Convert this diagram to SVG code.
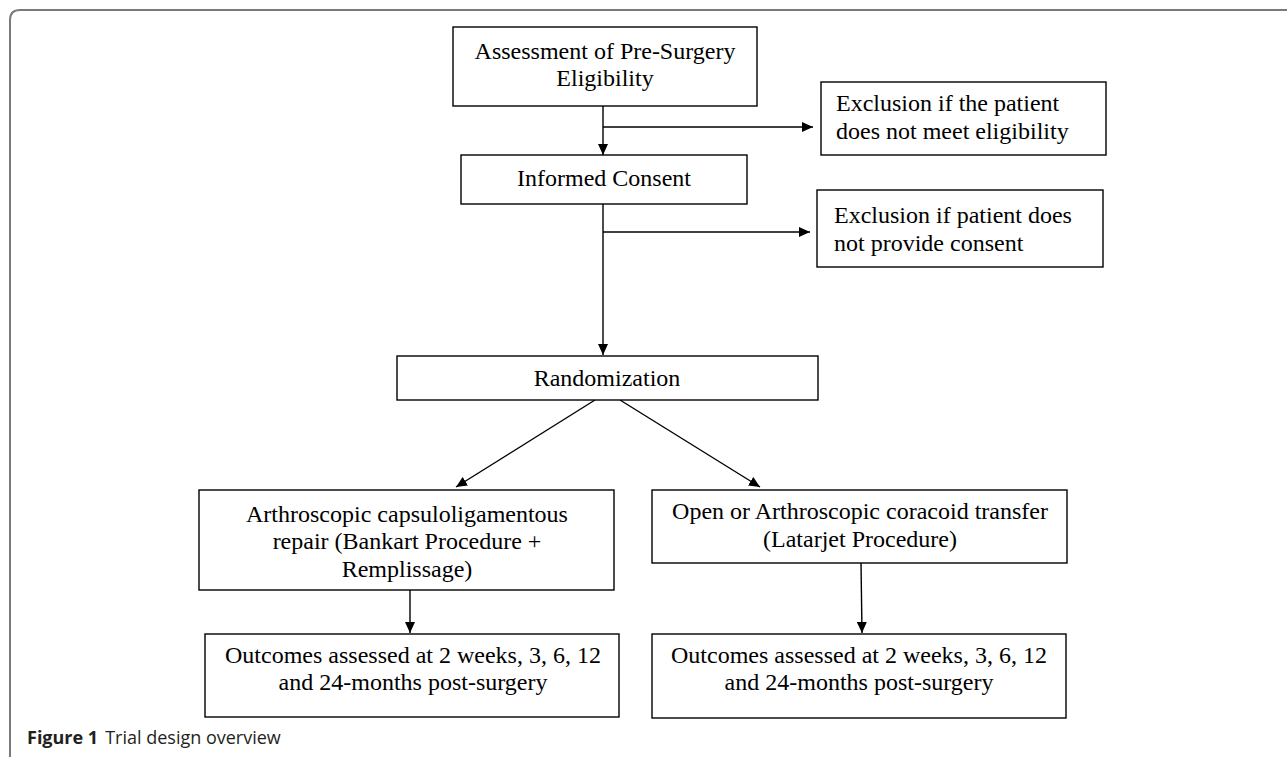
<svg xmlns="http://www.w3.org/2000/svg" width="1287" height="757" viewBox="0 0 1287 757">
<defs>
<style>
.box{fill:#fff;stroke:#000;stroke-width:1.4}
.t{font-family:"Liberation Serif","Times New Roman",serif;font-size:24px;fill:#000}
.c{text-anchor:middle}
.conn{stroke:#000;stroke-width:1.4;fill:none;marker-end:url(#ah)}
.cap{font-family:"Open Sans","Noto Sans",sans-serif;font-size:18px;fill:#231f20}
</style>
<marker id="ah" viewBox="0 0 11 10" refX="11" refY="5" markerWidth="11" markerHeight="10" markerUnits="userSpaceOnUse" orient="auto">
<path d="M0,0 L11,5 L0,10 z" fill="#000"/>
</marker>
</defs>
<rect width="1287" height="757" fill="#fff"/>
<path d="M10,757 L10,20 Q10,10 20,10 L1287,10" fill="none" stroke="#7a7a7a" stroke-width="2"/>

<g id="connectors">
<line class="conn" x1="603" y1="106" x2="603" y2="155"/>
<line class="conn" x1="603" y1="127" x2="813" y2="127"/>
<line class="conn" x1="603" y1="204" x2="603" y2="355"/>
<line class="conn" x1="603" y1="232" x2="810" y2="232"/>
<line class="conn" x1="595" y1="400" x2="456" y2="487"/>
<line class="conn" x1="620" y1="400" x2="760" y2="487"/>
<line class="conn" x1="410" y1="590" x2="410" y2="633"/>
<line class="conn" x1="861" y1="563" x2="862" y2="633"/>
</g>

<g id="assessment">
<rect class="box" x="453" y="27" width="304" height="79"/>
<text class="t c" x="605" y="59">Assessment of Pre-Surgery</text>
<text class="t c" x="605" y="86">Eligibility</text>
</g>
<g id="exclusion1">
<rect class="box" x="821" y="82" width="285" height="73"/>
<text class="t" x="836" y="111">Exclusion if the patient</text>
<text class="t" x="836" y="139">does not meet eligibility</text>
</g>
<g id="consent">
<rect class="box" x="461" y="155" width="286" height="49"/>
<text class="t c" x="604" y="186">Informed Consent</text>
</g>
<g id="exclusion2">
<rect class="box" x="817" y="190" width="286" height="77"/>
<text class="t" x="834" y="223">Exclusion if patient does</text>
<text class="t" x="834" y="251">not provide consent</text>
</g>
<g id="randomization">
<rect class="box" x="397" y="356" width="421" height="44"/>
<text class="t c" x="607" y="386">Randomization</text>
</g>
<g id="bankart">
<rect class="box" x="199" y="490" width="415" height="100"/>
<text class="t c" x="407" y="522">Arthroscopic capsuloligamentous</text>
<text class="t c" x="407" y="549">repair (Bankart Procedure +</text>
<text class="t c" x="407" y="577">Remplissage)</text>
</g>
<g id="latarjet">
<rect class="box" x="652" y="490" width="415" height="73"/>
<text class="t c" x="860" y="519">Open or Arthroscopic coracoid transfer</text>
<text class="t c" x="860" y="547">(Latarjet Procedure)</text>
</g>
<g id="outcomes-left">
<rect class="box" x="205" y="634" width="414" height="83"/>
<text class="t c" x="413" y="663">Outcomes assessed at 2 weeks, 3, 6, 12</text>
<text class="t c" x="413" y="690">and 24-months post-surgery</text>
</g>
<g id="outcomes-right">
<rect class="box" x="652" y="634" width="414" height="84"/>
<text class="t c" x="859" y="663">Outcomes assessed at 2 weeks, 3, 6, 12</text>
<text class="t c" x="859" y="690">and 24-months post-surgery</text>
</g>

<text class="cap" x="27" y="744"><tspan font-weight="bold">Figure 1</tspan><tspan dx="7">Trial design overview</tspan></text>
</svg>
